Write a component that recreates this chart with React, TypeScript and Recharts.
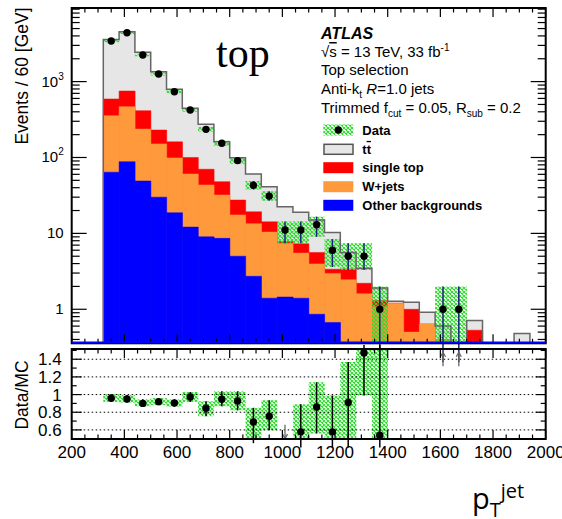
import React from "react";
import { ComposedChart, Bar, XAxis, YAxis, Line, Scatter, ErrorBar, ReferenceLine } from "recharts";

// 60 GeV bins between 200 and 2000 GeV (bin centres)
const binCenters = [230, 290, 350, 410, 470, 530, 590, 650, 710, 770, 830, 890, 950, 1010, 1070, 1130, 1190, 1250, 1310, 1370, 1430, 1490, 1550, 1610, 1670, 1730, 1790, 1850, 1910, 1970];

// MC components (events per bin)
const ttbar = [0, 0, 3010, 3789, 2016, 1120, 634, 345, 204, 113, 71.5, 41.4, 26.8, 14.7, 11.7, 9.4, 6.9, 2.2, 1.27, 0.6, 0.08, 0.24, 0.27, 0.2, 0, 0.18, 0, 0, 0.48, 0];
const singleTop = [0, 0, 234, 283, 177, 79, 62, 39.4, 26.6, 16, 10, 5.8, 3.8, 0.4, 1.8, 1.65, 0.4, 0.95, 0.6, 0.22, 0, 0.5, 0, 0, 0, 0.53, 0, 0, 0, 0];
const wjets = [0, 0, 292, 380, 188, 121, 80, 48.5, 34.4, 23.4, 12.5, 10.7, 9.0, 5.95, 4.1, 3.1, 2.3, 2.45, 1.6, 1.08, 1.2, 0.5, 0.64, 0.4, 0, 0, 0, 0, 0, 0];
const others = [0, 0, 64, 88, 49, 30, 18.7, 12.1, 9.0, 8.6, 5.0, 2.72, 1.4, 1.45, 1.4, 0.86, 0.67, 0, 0, 0, 0, 0, 0, 0, 0, 0, 0, 0, 0, 0];

// data with uncertainty band
const dataEvents = [null, null, 3430, 4400, 2240, 1260, 736, 423, 235, 154, 91, 43, 31, 11.1, 11.1, 13, 6.0, 5.0, 5.0, 1.0, null, null, null, 1.0, 1.0, null, null, null, null, null];
const dataLow = [null, null, 3300, 4230, 2150, 1200, 700, 400, 220, 143, 83, 38, 27, 7.4, 7.4, 9.0, 3.6, 3.3, 3.3, 0.2, null, null, null, 0.2, 0.2, null, null, null, null, null];
const dataHigh = [null, null, 3560, 4580, 2330, 1320, 775, 446, 252, 166, 100, 49, 36, 14.3, 14.3, 16.6, 8.4, 7.4, 7.4, 2.0, null, null, null, 2.0, 2.0, null, null, null, null, null];

// Data/MC
const ratioValues = [null, null, 0.958, 0.95, 0.9, 0.92, 0.905, 0.973, 0.845, 0.947, 0.928, 0.69, 0.755, null, 0.578, 0.86, 0.578, 0.91, 1.47, 0.54, null, null, null, null, null, null, null, null, null, null];
const ratioLow = [null, null, 0.917, 0.91, 0.868, 0.88, 0.865, 0.917, 0.755, 0.868, 0.822, 0.45, 0.597, null, 0.4, 0.56, 0.4, 0.4, 0.99, 0.4, null, null, null, null, null, null, null, null, null, null];
const ratioHigh = [null, null, 1.003, 0.995, 0.947, 0.96, 0.945, 1.03, 0.924, 1.037, 1.037, 0.85, 0.936, null, 0.89, 1.14, 0.99, 1.37, 2.0, 2.0, null, null, null, null, null, null, null, null, null, null];

// out-of-range markers in the ratio panel
const arrowX = [1010, 1610, 1670];
const arrowY = [0.58, 1.4, 1.4];
const arrowUp = [false, true, true];

const xMajorTicks = [200, 400, 600, 800, 1000, 1200, 1400, 1600, 1800, 2000];
const logDecades = [1, 10, 100, 1000];
const logDecadeBase = ["1", "10", "10", "10"];
const logDecadeExp = ["", "", "2", "3"];
const ratioMajorTicks = [0.6, 0.8, 1, 1.2, 1.4];
const ratioLabels = ["0.6", "0.8", "1", "1.2", "1.4"];

const xTicks: number[] = [];
for (let v = 200; v <= 2000; v += 50) xTicks.push(v);
const logTicks: number[] = [];
[0.1, 1, 10, 100, 1000].forEach((d) => {
  for (let k = 1; k <= 9; k++) {
    const v = +(d * k).toPrecision(3);
    if (v > 0.36 && v < 9300) logTicks.push(v);
  }
});
const ratioTicks = [0.6, 0.7, 0.8, 0.9, 1, 1.1, 1.2, 1.3, 1.4, 1.5];

const FONT = "'Liberation Sans', Arial, Helvetica, sans-serif";
const LOG_MIN = 0.356;
const LOG_MAX = 9330;
const R_MIN = 0.497;
const R_MAX = 1.516;
const FLOOR = 0.01;

// panel frames (pixels)
const PL = 71.7;
const PR = 545.7;
const MAIN_T = 8;
const MAIN_B = 343.3;
const RAT_T = 349;
const RAT_B = 439;

// frame tick positions, matching the chart axes above
const fx = (v: number) => PL + ((v - 200) / 1800) * (PR - PL);
const fyLog = (v: number) =>
  MAIN_B - ((Math.log10(v) - Math.log10(LOG_MIN)) / (Math.log10(LOG_MAX) - Math.log10(LOG_MIN))) * (MAIN_B - MAIN_T);
const fyRat = (v: number) => RAT_B - ((v - R_MIN) / (R_MAX - R_MIN)) * (RAT_B - RAT_T);

const rows = binCenters.map((c, i) => {
  const blue = others[i];
  const orange = blue + wjets[i];
  const red = orange + singleTop[i];
  const grey = red + ttbar[i];
  return {
    center: c,
    blue: blue > 0 ? blue : null,
    orange: orange > 0 ? orange : null,
    red: red > 0 ? red : null,
    grey: grey > 0 ? grey : null,
    band: dataEvents[i] != null ? [dataLow[i], dataHigh[i]] : null,
    ratioBand: ratioValues[i] != null ? [ratioLow[i], ratioHigh[i]] : null,
  };
});

const outline = [
  ...rows.map((r) => ({ x: r.center - 30, y: r.grey ?? FLOOR })),
  { x: 2000, y: FLOOR },
];

const dataPts = binCenters
  .map((c, i) => ({ c, i }))
  .filter(({ i }) => dataEvents[i] != null)
  .map(({ c, i }) => {
    const v = dataEvents[i] as number;
    return { x: c, y: v, err: [v - (dataLow[i] as number), (dataHigh[i] as number) - v] };
  });

const ratioPts = binCenters
  .map((c, i) => ({ c, i }))
  .filter(({ i }) => ratioValues[i] != null)
  .map(({ c, i }) => {
    const v = ratioValues[i] as number;
    return { x: c, y: v, err: [v - (ratioLow[i] as number), (ratioHigh[i] as number) - v] };
  });

const arrowPts = arrowX.map((x, i) => ({ x, y: arrowY[i], up: arrowUp[i] }));

const near = (a: number, b: number) => Math.abs(a - b) < 1e-6 * Math.max(1, Math.abs(b));
const isMajorX = (v: number) => xMajorTicks.some((t) => near(t, v));
const isDecade = (v: number) => logDecades.some((t) => near(t, v));
const isMajorR = (v: number) => ratioMajorTicks.some((t) => near(t, v));

const EmptyTick = () => <g />;
const RatioXLabel = (p: any) =>
  isMajorX(p.payload.value) ? (
    <text x={p.x} y={Number(p.y) + 19} textAnchor="middle" fontSize={17} fontFamily={FONT} fill="#000">
      {p.payload.value}
    </text>
  ) : (
    <g />
  );
const LogYTick = (p: any) => {
  const idx = logDecades.findIndex((t) => near(t, p.payload.value));
  const major = idx >= 0;
  const x = Number(p.x);
  return (
    <g>
      <line x1={x} x2={x + (major ? 15 : 8)} y1={p.y} y2={p.y} stroke="#000" strokeWidth={1.2} />
      {major && (
        <text x={x - 8} y={Number(p.y) + 5} textAnchor="end" fontSize={15} fontFamily={FONT} fill="#000">
          {logDecadeBase[idx]}
          {logDecadeExp[idx] && (
            <tspan dy={-7} fontSize={10}>
              {logDecadeExp[idx]}
            </tspan>
          )}
        </text>
      )}
    </g>
  );
};
const RatioYTick = (p: any) => {
  const idx = ratioMajorTicks.findIndex((t) => near(t, p.payload.value));
  const major = idx >= 0;
  const x = Number(p.x);
  return (
    <g>
      <line x1={x} x2={x + (major ? 10 : 5)} y1={p.y} y2={p.y} stroke="#000" strokeWidth={1.2} />
      {major && (
        <text x={x - 10} y={Number(p.y) + 6} textAnchor="end" fontSize={17} fontFamily={FONT} fill="#000">
          {ratioLabels[idx]}
        </text>
      )}
    </g>
  );
};

const DataDot = (p: any) => <circle cx={p.cx} cy={p.cy} r={3.7} fill="#000" />;

const ArrowShape = (p: any) => {
  const up = p.payload.up;
  const tip = up ? p.cy - 7 : p.cy + 7;
  const tail = up ? p.cy + 7 : p.cy - 7;
  const s = up ? 1 : -1;
  return (
    <g>
      <line x1={p.cx} x2={p.cx} y1={tail} y2={tip} stroke="#666" strokeWidth={1.3} />
      <path d={`M${p.cx - 2.5},${tip + s * 4.5} L${p.cx},${tip} L${p.cx + 2.5},${tip + s * 4.5}`} fill="none" stroke="#666" strokeWidth={1.3} />
    </g>
  );
};

const histBars = [
  { key: "grey", fill: "#e6e6e6" },
  { key: "red", fill: "#ff0000" },
  { key: "orange", fill: "#ff9a3c" },
  { key: "blue", fill: "#0000ff" },
];

const legendRows = [
  { label: "Data", kind: "data" },
  { label: "tt", kind: "tt" },
  { label: "single top", fill: "#ff0000" },
  { label: "W+jets", fill: "#ff9a3c" },
  { label: "Other backgrounds", fill: "#0000ff" },
];

const axisCommon = { tickLine: false, tickSize: 0, tickMargin: 0, axisLine: false, interval: 0 as const, allowDataOverflow: true };

export default function App() {
  return (
    <div style={{ position: "absolute", left: 0, top: 0, width: 562, height: 519, background: "#fff", overflow: "hidden" }}>
      <svg width={0} height={0} style={{ position: "absolute" }}>
        <defs>
          <pattern id="hatch" width={4} height={4} patternUnits="userSpaceOnUse">
            <path d="M0,0 L4,4 M4,0 L0,4" stroke="#2ed82e" strokeWidth={1.1} />
          </pattern>
        </defs>
      </svg>

      <div style={{ position: "absolute", left: 0, top: 0 }}>
        <ComposedChart width={562} height={380} data={rows} margin={{ top: 8, right: 16.3, bottom: 0, left: 0 }} barCategoryGap={0} barGap={0}>
          {histBars.map((b) => (
            <XAxis key={b.key} xAxisId={b.key} dataKey="center" type="category" hide height={0} />
          ))}
          <XAxis xAxisId="band" dataKey="center" type="category" hide height={0} />
          <XAxis xAxisId="num" dataKey="x" type="number" domain={[200, 2000]} ticks={xTicks} height={36.7} tick={EmptyTick} {...axisCommon} />
          <YAxis yAxisId="log" scale="log" type="number" domain={[LOG_MIN, LOG_MAX]} ticks={logTicks} width={71.7} tick={LogYTick} {...axisCommon} />

          {histBars.map((b) => (
            <Bar key={b.key} xAxisId={b.key} yAxisId="log" dataKey={b.key} fill={b.fill} stroke={b.fill} strokeWidth={0.5} isAnimationActive={false} />
          ))}
          <Line xAxisId="num" yAxisId="log" data={outline} dataKey="y" type="stepAfter" stroke="#666" strokeWidth={1.5} dot={false} isAnimationActive={false} />
          <Bar xAxisId="band" yAxisId="log" dataKey="band" fill="url(#hatch)" isAnimationActive={false} />
          <Scatter xAxisId="num" yAxisId="log" data={dataPts} dataKey="y" shape={DataDot} isAnimationActive={false}>
            <ErrorBar dataKey="err" direction="y" width={0} stroke="#15237a" strokeWidth={1.5} isAnimationActive={false} />
          </Scatter>
        </ComposedChart>
      </div>

      <div style={{ position: "absolute", left: 0, top: 345 }}>
        <ComposedChart width={562} height={130} data={rows} margin={{ top: 4, right: 16.3, bottom: 0, left: 0 }} barCategoryGap={0} barGap={0}>
          <XAxis xAxisId="band" dataKey="center" type="category" hide height={0} />
          <XAxis xAxisId="num" dataKey="x" type="number" domain={[200, 2000]} ticks={xTicks} height={36} tick={RatioXLabel} {...axisCommon} />
          <YAxis yAxisId="r" type="number" domain={[R_MIN, R_MAX]} ticks={ratioTicks} width={71.7} tick={RatioYTick} {...axisCommon} />
          {ratioMajorTicks.map((v) => (
            <ReferenceLine key={v} xAxisId="num" yAxisId="r" y={v} stroke="#000" strokeWidth={1} strokeDasharray="1.5 2.5" />
          ))}
          <Bar xAxisId="band" yAxisId="r" dataKey="ratioBand" fill="url(#hatch)" isAnimationActive={false} />
          <Scatter xAxisId="num" yAxisId="r" data={ratioPts} dataKey="y" shape={DataDot} isAnimationActive={false}>
            <ErrorBar dataKey="err" direction="y" width={0} stroke="#000" strokeWidth={1.5} isAnimationActive={false} />
          </Scatter>
          <Scatter xAxisId="num" yAxisId="r" data={arrowPts} dataKey="y" shape={ArrowShape} isAnimationActive={false} />
        </ComposedChart>
      </div>

      <svg width={562} height={519} style={{ position: "absolute", left: 0, top: 0, pointerEvents: "none" }}>
        {/* frame ticks: top/bottom of both panels, right side of both panels */}
        <g stroke="#000" strokeWidth={1.2}>
          {xTicks.map((v) => {
            const x = fx(v);
            const len = isMajorX(v) ? 9 : 4.5;
            return (
              <g key={`x${v}`}>
                <line x1={x} x2={x} y1={MAIN_T} y2={MAIN_T + len} />
                <line x1={x} x2={x} y1={MAIN_B} y2={MAIN_B - len} />
                <line x1={x} x2={x} y1={RAT_T} y2={RAT_T + len} />
                <line x1={x} x2={x} y1={RAT_B} y2={RAT_B - len} />
              </g>
            );
          })}
          {logTicks.map((v) => {
            const y = fyLog(v);
            return <line key={`l${v}`} x1={PR} x2={PR - (isDecade(v) ? 15 : 8)} y1={y} y2={y} />;
          })}
          {ratioTicks.map((v) => {
            const y = fyRat(v);
            return <line key={`r${v}`} x1={PR} x2={PR - (isMajorR(v) ? 10 : 5)} y1={y} y2={y} />;
          })}
        </g>

        {/* panel frames */}
        <rect x={PL} y={MAIN_T} width={PR - PL} height={MAIN_B - MAIN_T} fill="none" stroke="#000" strokeWidth={2} />
        <line x1={PL} x2={PR} y1={342.6} y2={342.6} stroke="#0000ff" strokeWidth={2} />
        <rect x={PL} y={RAT_T} width={PR - PL} height={RAT_B - RAT_T} fill="none" stroke="#000" strokeWidth={2} />

        <text transform="translate(28,76) rotate(-90)" textAnchor="middle" fontSize={17.5} fontFamily={FONT} fill="#000">
          Events / 60 [GeV]
        </text>
        <text transform="translate(28,395) rotate(-90)" textAnchor="middle" fontSize={17.5} fontFamily={FONT} fill="#000">
          Data/MC
        </text>
        <text x={216} y={67} fontSize={42} fontFamily="'Liberation Serif', 'Times New Roman', serif" fill="#000">
          top
        </text>

        <g fontFamily={FONT} fill="#000">
          <text x={321} y={39} fontSize={16} fontWeight="bold" fontStyle="italic">ATLAS</text>
          <text x={321} y={57} fontSize={15}>
            √<tspan style={{ textDecoration: "overline" }}>s</tspan> = 13 TeV, 33 fb
            <tspan dy={-6} fontSize={10}>-1</tspan>
          </text>
          <text x={321} y={75} fontSize={15}>Top selection</text>
          <text x={321} y={94} fontSize={15}>
            Anti-k<tspan dy={4} fontSize={10}>t</tspan>
            <tspan dy={-4}> </tspan>
            <tspan fontStyle="italic">R</tspan>=1.0 jets
          </text>
          <text x={321} y={113} fontSize={15}>
            Trimmed f<tspan dy={4} fontSize={10}>cut</tspan>
            <tspan dy={-4}> = 0.05, R</tspan>
            <tspan dy={4} fontSize={10}>sub</tspan>
            <tspan dy={-4}> = 0.2</tspan>
          </text>

          {legendRows.map((r, i) => {
            const cy = [130, 149.3, 167.7, 186.7, 205.3][i];
            return (
              <g key={r.label}>
                {r.kind === "data" ? (
                  <g>
                    <rect x={323.3} y={cy - 5.5} width={30} height={11} fill="url(#hatch)" />
                    <circle cx={338.3} cy={cy} r={3.7} fill="#000" />
                  </g>
                ) : r.kind === "tt" ? (
                  <rect x={324} y={cy - 5} width={29} height={10} fill="#e6e6e6" stroke="#555" strokeWidth={1.5} />
                ) : (
                  <rect x={323.3} y={cy - 5.5} width={30} height={11} fill={r.fill} />
                )}
                <text x={362.3} y={cy + 4.6} fontSize={13} fontWeight="bold">
                  {r.kind === "tt" ? (
                    <>
                      t<tspan style={{ textDecoration: "overline" }}>t</tspan>
                    </>
                  ) : (
                    r.label
                  )}
                </text>
              </g>
            );
          })}
        </g>

        <text x={472} y={509} fontSize={29} fontFamily="'Open Sans', 'DejaVu Sans', sans-serif" fill="#000">
          p<tspan dy={8} fontSize={20}>T</tspan>
          <tspan dy={-19} fontSize={20}>jet</tspan>
        </text>
      </svg>
    </div>
  );
}
